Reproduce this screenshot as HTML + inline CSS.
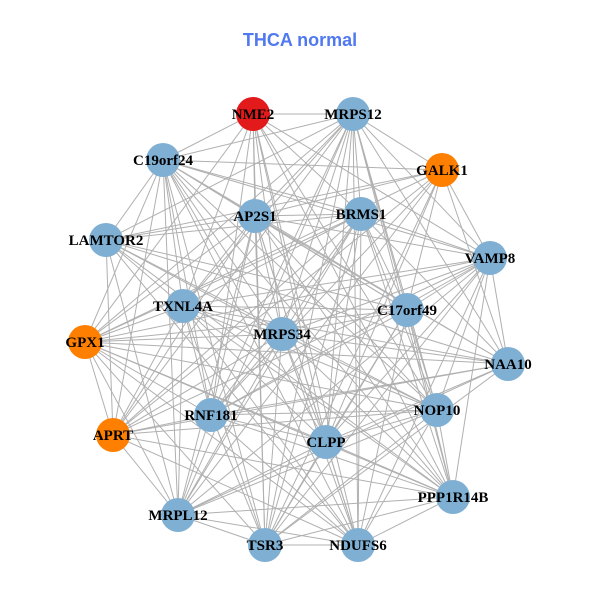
<!DOCTYPE html>
<html><head><meta charset="utf-8"><style>
html,body{margin:0;padding:0;background:#fff;}
svg{display:block}
</style></head><body>
<svg id="s" width="600" height="600" xmlns="http://www.w3.org/2000/svg">
<rect width="600" height="600" fill="#fff"/>
<text x="300" y="46" text-anchor="middle" font-family="Liberation Sans, sans-serif" font-weight="bold" font-size="18" fill="#5078f0">THCA normal</text>
<g id="e" stroke="#b0b0b0" stroke-width="1"></g>
<g id="n"></g>
</svg>
<script>
var N=[["NME2",253,114,"#e31a1c"],["MRPS12",353,114],["C19orf24",163,160],["GALK1",442,170,"#ff7f00"],["AP2S1",255,216],["BRMS1",361,214],["LAMTOR2",106,240],["VAMP8",490,258],["TXNL4A",183,306],["C17orf49",407,310],["GPX1",85,342,"#ff7f00"],["MRPS34",282,334],["NAA10",508,364],["RNF181",211,415],["NOP10",437,410],["APRT",113,435,"#ff7f00"],["CLPP",326,442],["PPP1R14B",453,497],["MRPL12",178,515],["TSR3",265,545],["NDUFS6",358,545]];
var ns="http://www.w3.org/2000/svg",E=document.getElementById("e"),G=document.getElementById("n");
for(var i=0;i<N.length;i++)for(var j=i+1;j<N.length;j++){
 if((i*7+j*3)%9==0)continue;
 var l=document.createElementNS(ns,"line");
 l.setAttribute("x1",N[i][1]);l.setAttribute("y1",N[i][2]);l.setAttribute("x2",N[j][1]);l.setAttribute("y2",N[j][2]);E.appendChild(l);}
N.forEach(function(d){
 var c=document.createElementNS(ns,"circle");c.setAttribute("cx",d[1]);c.setAttribute("cy",d[2]);c.setAttribute("r",17);c.setAttribute("fill",d[3]||"#7fb0d4");G.appendChild(c);
 var t=document.createElementNS(ns,"text");t.setAttribute("x",d[1]);t.setAttribute("y",d[2]+5);t.setAttribute("text-anchor","middle");t.setAttribute("font-family","Liberation Serif, serif");t.setAttribute("font-weight","bold");t.setAttribute("font-size","15");t.textContent=d[0];G.appendChild(t);});
</script>
</body></html>
